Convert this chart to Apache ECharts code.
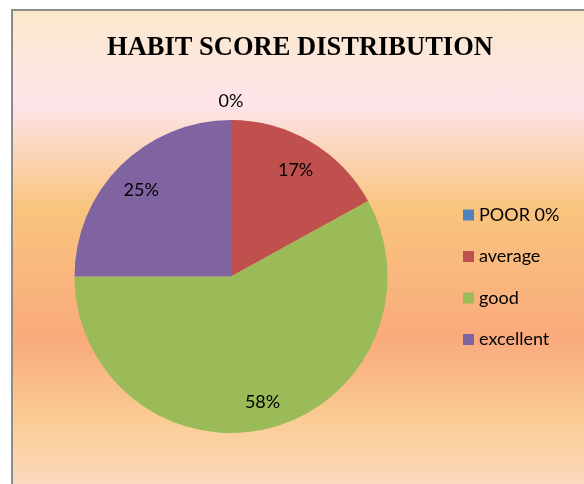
<!DOCTYPE html>
<html lang="en-US">
  <head>
    <meta charset="utf-8">
    <title>HABIT SCORE DISTRIBUTION</title>
    <script type="text/javascript" src="https://cdn.jsdelivr.net/npm/echarts@6/dist/echarts.min.js"></script>
    <style>
      body { margin: 0; background: #fff; }
      #frame {
        position: absolute; left: 11px; top: 9px; width: 620px; height: 520px;
        border-left: 2px solid #8c8c8c; border-top: 2px solid #8c8c8c;
        background: linear-gradient(to bottom,
          #fbe9cc 0%, #fde4ea 18%, #f9c47e 38%, #f9aa7c 63%, #facd95 79%, #fde2de 100%);
      }
      #main { position: absolute; left: 0; top: 0; width: 584px; height: 484px; }
    </style>
  </head>
  <body>
    <div id="frame"></div>
    <div id="main"></div>
    <script type="text/javascript">
      // habit score shares (percent)
      var categories = ['POOR 0%', 'average', 'good', 'excellent'];
      var values     = [0, 17, 58, 25];
      var colors     = ['#4f81bd', '#c0504d', '#9bbb59', '#8064a2'];

      var font = 'Lato, "Noto Sans", sans-serif';

      function pieData(labelFor) {
        var out = [];
        for (var i = 0; i < categories.length; i++) {
          out.push({
            name: categories[i],
            value: values[i],
            label: { show: labelFor(i) }
          });
        }
        return out;
      }

      var labelStyle = {
        position: 'inside',
        formatter: '{c}%',
        fontFamily: font,
        fontSize: 18,
        color: '#000'
      };

      var chart = echarts.init(document.getElementById('main'));
      chart.setOption({
        animation: false,
        title: {
          text: 'HABIT SCORE DISTRIBUTION',
          left: 300,
          top: 35,
          padding: 0,
          textAlign: 'center',
          textStyle: {
            fontFamily: '"Liberation Serif", "Times New Roman", serif',
            fontWeight: 'bold',
            fontSize: 26.5,
            color: '#000'
          }
        },
        legend: {
          orient: 'vertical',
          left: 463,
          top: 206,
          padding: 0,
          icon: 'rect',
          itemWidth: 11,
          itemHeight: 11,
          itemGap: 23.5,
          data: categories.map(function (n, i) {
            return { name: n, itemStyle: { color: colors[i] } };
          }),
          textStyle: { fontFamily: font, fontSize: 18, color: '#000' }
        },
        series: [
          {
            // the pie itself
            type: 'pie',
            center: [231, 276.5],
            radius: [0, 156.5],
            startAngle: 90,
            color: colors,
            silent: true,
            label: { show: false },
            labelLine: { show: false },
            itemStyle: { borderWidth: 0 },
            data: pieData(function () { return false; })
          },
          {
            // transparent ring only used to place the inner labels
            type: 'pie',
            center: [231, 279.5],
            radius: [92, 156],
            startAngle: 90,
            silent: true,
            itemStyle: { color: 'rgba(0,0,0,0)', borderWidth: 0 },
            label: labelStyle,
            labelLine: { show: false },
            data: pieData(function (i) { return values[i] > 0; })
          },
          {
            // outer ring for the zero slice label
            type: 'pie',
            center: [231, 276.5],
            radius: [163, 182],
            startAngle: 90,
            silent: true,
            itemStyle: { color: 'rgba(0,0,0,0)', borderWidth: 0 },
            label: labelStyle,
            labelLine: { show: false },
            data: pieData(function (i) { return values[i] === 0; })
          }
        ]
      });
    </script>
  </body>
</html>
